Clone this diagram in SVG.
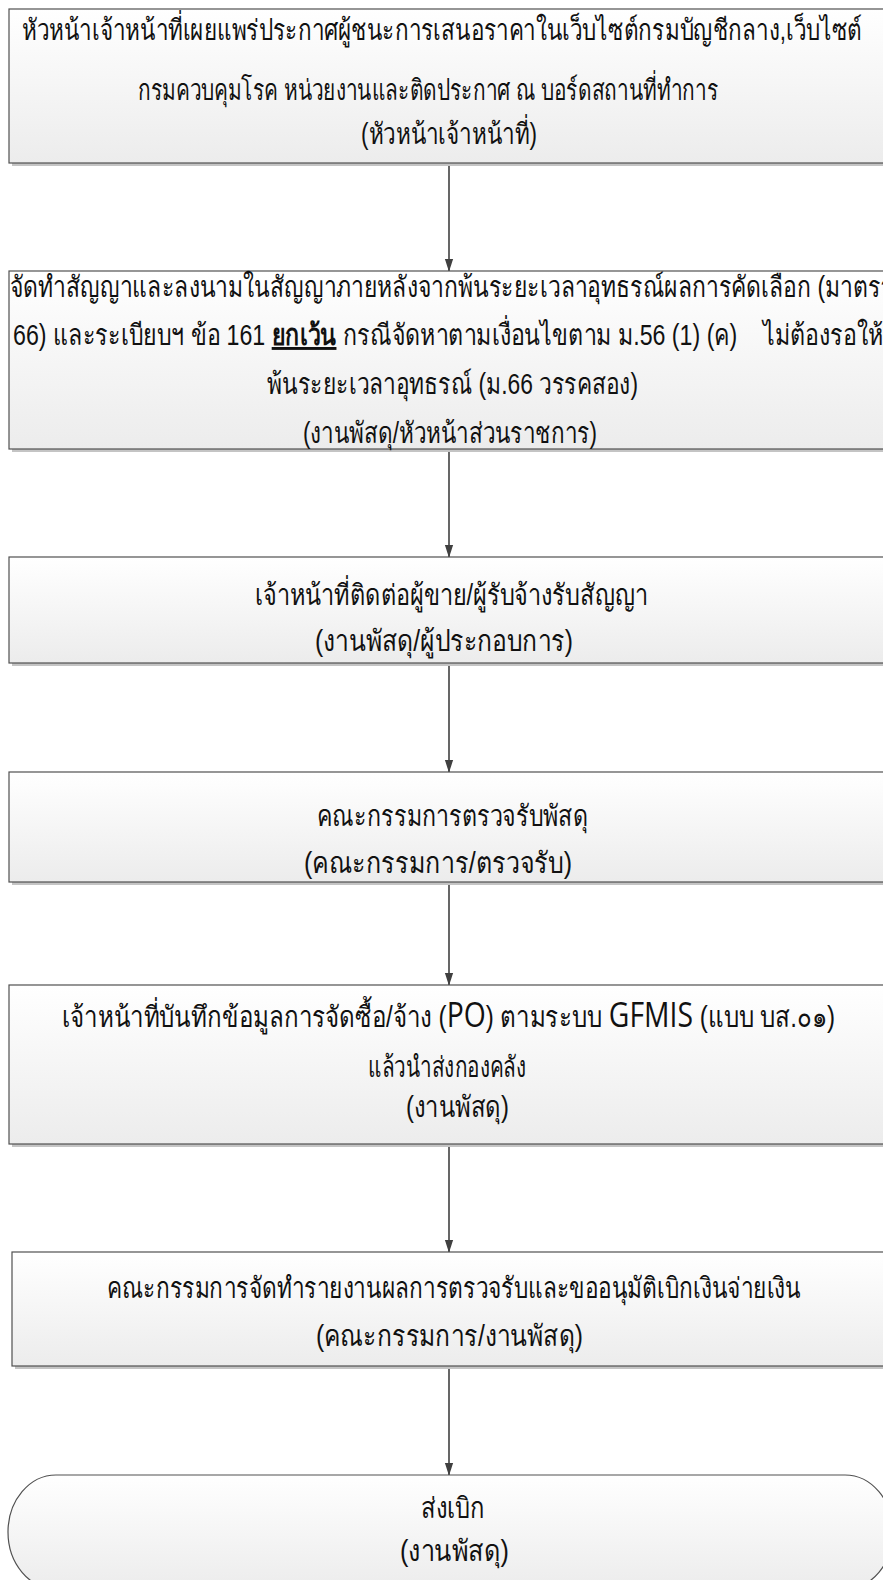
<svg xmlns="http://www.w3.org/2000/svg" width="883" height="1580" viewBox="0 0 883 1580">
<defs>
<linearGradient id="g" x1="0" y1="0" x2="0" y2="1">
<stop offset="0" stop-color="#ffffff"/>
<stop offset="1" stop-color="#ececec"/>
</linearGradient>
<marker id="arr" markerWidth="13" markerHeight="20" refX="19" refY="6.5" orient="auto" markerUnits="userSpaceOnUse" viewBox="0 0 20 13">
<path d="M0,0 L20,6.5 L0,13 Z" fill="#404040"/>
</marker>
<style>
.box{fill:url(#g);stroke:#505050;stroke-width:1.2}
.sh{fill:#c4c4c4}
.t{font-family:"Liberation Sans","Noto Sans",sans-serif;font-size:29px;fill:#111;text-anchor:start;font-weight:300}
.c{stroke:#404040;stroke-width:1.6;fill:none;marker-end:url(#arr)}
.big{font-family:"Open Sans","Noto Sans",sans-serif;font-size:34px;font-weight:400}
</style>
</defs>
<g id="connectors">
<line class="c" x1="449" y1="163" x2="449" y2="271"/>
<line class="c" x1="449" y1="449" x2="449" y2="557"/>
<line class="c" x1="449" y1="663" x2="449" y2="772"/>
<line class="c" x1="449" y1="882" x2="449" y2="985"/>
<line class="c" x1="449" y1="1144" x2="449" y2="1252"/>
<line class="c" x1="449" y1="1366" x2="449" y2="1475"/>
</g>
<g id="n1">
<rect class="sh" x="12" y="12" width="890" height="154"/>
<rect class="box" x="9" y="9" width="890" height="154"/>
<text class="t" x="22" y="40" textLength="840" lengthAdjust="spacingAndGlyphs">หัวหน้าเจ้าหน้าที่เผยแพร่ประกาศผู้ชนะการเสนอราคาในเว็บไซต์กรมบัญชีกลาง,เว็บไซต์</text>
<text class="t" x="138" y="100" textLength="580" lengthAdjust="spacingAndGlyphs">กรมควบคุมโรค หน่วยงานและติดประกาศ ณ บอร์ดสถานที่ทำการ</text>
<text class="t" x="361" y="144" textLength="176" lengthAdjust="spacingAndGlyphs">(หัวหน้าเจ้าหน้าที่)</text>
</g>
<g id="n2">
<rect class="sh" x="12" y="274" width="890" height="178"/>
<rect class="box" x="9" y="271" width="890" height="178"/>
<text class="t" x="10" y="297" textLength="883" lengthAdjust="spacingAndGlyphs">จัดทำสัญญาและลงนามในสัญญาภายหลังจากพ้นระยะเวลาอุทธรณ์ผลการคัดเลือก (มาตรา</text>
<text class="t" x="13" y="345" textLength="870" lengthAdjust="spacingAndGlyphs" xml:space="preserve">66) และระเบียบฯ ข้อ 161 <tspan font-weight="bold" text-decoration="underline">ยกเว้น</tspan> กรณีจัดหาตามเงื่อนไขตาม ม.56 (1) (ค)    ไม่ต้องรอให้</text>
<text class="t" x="267" y="394" textLength="371" lengthAdjust="spacingAndGlyphs">พ้นระยะเวลาอุทธรณ์ (ม.66 วรรคสอง)</text>
<text class="t" x="303" y="443" textLength="294" lengthAdjust="spacingAndGlyphs">(งานพัสดุ/หัวหน้าส่วนราชการ)</text>
</g>
<g id="n3">
<rect class="sh" x="12" y="560" width="890" height="106"/>
<rect class="box" x="9" y="557" width="890" height="106"/>
<text class="t" x="255" y="605" textLength="393" lengthAdjust="spacingAndGlyphs">เจ้าหน้าที่ติดต่อผู้ขาย/ผู้รับจ้างรับสัญญา</text>
<text class="t" x="315" y="651" textLength="258" lengthAdjust="spacingAndGlyphs">(งานพัสดุ/ผู้ประกอบการ)</text>
</g>
<g id="n4">
<rect class="sh" x="12" y="775" width="890" height="110"/>
<rect class="box" x="9" y="772" width="890" height="110"/>
<text class="t" x="317" y="826" textLength="271" lengthAdjust="spacingAndGlyphs">คณะกรรมการตรวจรับพัสดุ</text>
<text class="t" x="304" y="873" textLength="268" lengthAdjust="spacingAndGlyphs">(คณะกรรมการ/ตรวจรับ)</text>
</g>
<g id="n5">
<rect class="sh" x="12" y="988" width="890" height="159"/>
<rect class="box" x="9" y="985" width="890" height="159"/>
<text class="t" x="62" y="1027" textLength="773" lengthAdjust="spacingAndGlyphs">เจ้าหน้าที่บันทึกข้อมูลการจัดซื้อ/จ้าง (<tspan class="big">PO</tspan>) ตามระบบ <tspan class="big">GFMIS</tspan> (แบบ บส.๐๑)</text>
<text class="t" x="368" y="1077" textLength="158" lengthAdjust="spacingAndGlyphs">แล้วนำส่งกองคลัง</text>
<text class="t" x="406" y="1117" textLength="103" lengthAdjust="spacingAndGlyphs">(งานพัสดุ)</text>
</g>
<g id="n6">
<rect class="sh" x="15" y="1255" width="890" height="114"/>
<rect class="box" x="12" y="1252" width="890" height="114"/>
<text class="t" x="107" y="1298" textLength="694" lengthAdjust="spacingAndGlyphs">คณะกรรมการจัดทำรายงานผลการตรวจรับและขออนุมัติเบิกเงินจ่ายเงิน</text>
<text class="t" x="316" y="1346" textLength="267" lengthAdjust="spacingAndGlyphs">(คณะกรรมการ/งานพัสดุ)</text>
</g>
<g id="n7">
<path class="box" d="M56,1475 L845,1475 A48,57 0 0 1 845,1589 L56,1589 A48,57 0 0 1 56,1475 Z"/>
<text class="t" x="421" y="1518" textLength="64" lengthAdjust="spacingAndGlyphs">ส่งเบิก</text>
<text class="t" x="400" y="1561" textLength="109" lengthAdjust="spacingAndGlyphs">(งานพัสดุ)</text>
</g>
</svg>
